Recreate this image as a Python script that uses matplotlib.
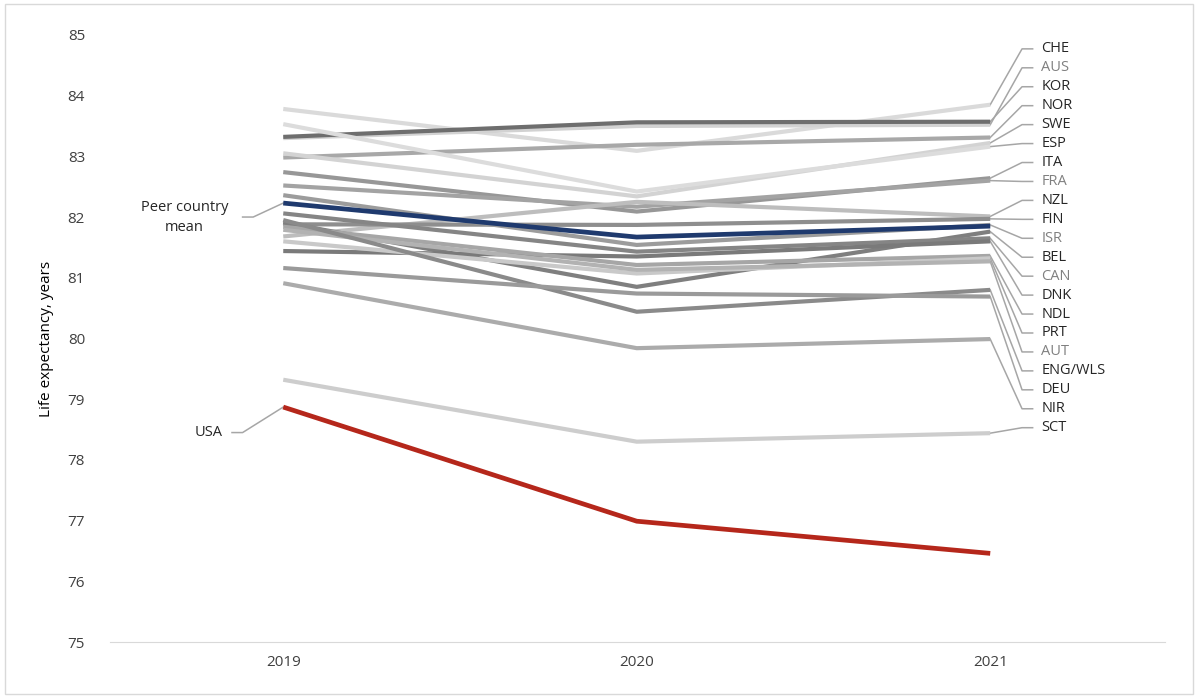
import matplotlib.pyplot as plt
from matplotlib.patches import Rectangle

plt.rcParams["font.family"] = ["Open Sans", "DejaVu Sans"]

# data
years = ["2019", "2020", "2021"]
countries = ["CHE", "AUS", "KOR", "NOR", "SWE", "ESP", "ITA", "FRA", "NZL", "FIN",
             "ISR", "BEL", "CAN", "DNK", "NDL", "PRT", "AUT", "ENG/WLS", "DEU", "NIR", "SCT"]
le_2019 = [83.78, 83.30, 83.32, 82.98, 83.05, 83.53, 82.74, 82.52, 81.68, 81.88,
           82.36, 81.91, 82.06, 81.44, 81.84, 81.60, 81.79, 81.95, 81.16, 80.91, 79.32]
le_2020 = [83.09, 83.50, 83.56, 83.19, 82.34, 82.42, 82.09, 82.17, 82.25, 81.87,
           81.54, 80.85, 81.43, 81.35, 81.21, 81.07, 81.13, 80.44, 80.74, 79.84, 78.30]
le_2021 = [83.85, 83.52, 83.57, 83.31, 83.22, 83.16, 82.64, 82.60, 82.01, 81.97,
           81.87, 81.76, 81.65, 81.60, 81.36, 81.32, 81.27, 80.80, 80.69, 79.99, 78.44]
peer_mean = [82.23, 81.67, 81.85]
usa = [78.87, 76.99, 76.46]

# styles
line_colors = ["#dadada", "#d2d2d2", "#6e6e6e", "#a8a8a8", "#d3d3d3", "#dcdcdc", "#979797",
               "#a3a3a3", "#bdbdbd", "#8e8e8e", "#9c9c9c", "#7f7f7f", "#858585", "#7a7a7a",
               "#a6a6a6", "#c9c9c9", "#b2b2b2", "#8a8a8a", "#9a9a9a", "#ababab", "#cdcdcd"]
grey_labels = {"AUS", "FRA", "ISR", "CAN", "AUT"}
leader_c = "#a6a6a6"

fig = plt.figure(figsize=(12, 6.98), dpi=100)
ax = fig.add_axes([0.0917, 0.0802, 0.8793, 0.8698])
fig.patches.append(Rectangle((0.004, 0.006), 0.99, 0.988, transform=fig.transFigure,
                             fill=False, edgecolor="#d9d9d9", linewidth=1))

x = [0, 1, 2]
for i, c in enumerate(countries):
    ax.plot(x, [le_2019[i], le_2020[i], le_2021[i]], color=line_colors[i],
            linewidth=3.0, solid_capstyle="butt", zorder=2)
ax.plot(x, peer_mean, color="#1f3a6e", linewidth=3.4, solid_capstyle="butt", zorder=4)
ax.plot(x, usa, color="#b5271b", linewidth=3.4, solid_capstyle="butt", zorder=4)

# right-hand labels with leader lines
for i, c in enumerate(countries):
    ly = 84.77 - i * 0.312 if c != "SCT" else 78.53
    ax.plot([2.0, 2.09, 2.12], [le_2021[i], ly, ly], color=leader_c, linewidth=1.1,
            zorder=1, clip_on=False)
    ax.text(2.145, ly, c, va="center", ha="left", fontsize=10.5,
            color="#808080" if c in grey_labels else "#262626")

# left-hand labels
ax.plot([-0.115, -0.085, 0.0], [82.0, 82.0, peer_mean[0]], color=leader_c, linewidth=1.1, zorder=1)
ax.text(-0.28, 82.0, "Peer country\nmean", ha="center", va="center", fontsize=10.5,
        color="#262626", linespacing=1.45)
ax.plot([-0.145, -0.115, 0.0], [78.45, 78.45, usa[0]], color=leader_c, linewidth=1.1, zorder=1)
ax.text(-0.21, 78.45, "USA", ha="center", va="center", fontsize=10.5, color="#262626")

ax.set_xlim(-0.49, 2.495)
ax.set_ylim(75, 85)
ax.set_yticks(range(75, 86))
ax.set_xticks(x)
ax.set_xticklabels(years)
ax.tick_params(length=0, labelsize=11, colors="#404040")
ax.tick_params(axis="y", pad=18)
ax.tick_params(axis="x", pad=9)
for s in ["top", "right", "left"]:
    ax.spines[s].set_visible(False)
ax.spines["bottom"].set_color("#d9d9d9")
ax.set_ylabel("Life expectancy, years", fontsize=11, color="#000000", labelpad=10)

fig.savefig("out.png", dpi=100)
